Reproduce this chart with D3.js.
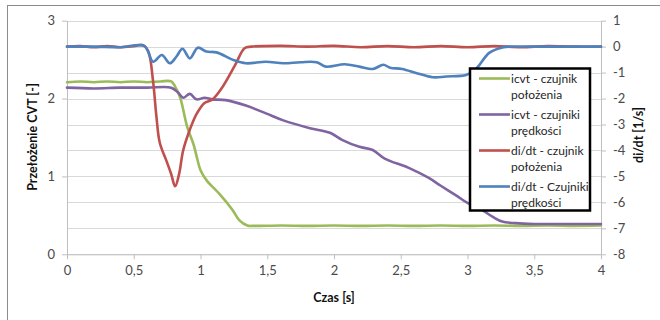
<!DOCTYPE html>
<html><head><meta charset="utf-8">
<script src="https://cdn.jsdelivr.net/npm/d3@7"></script>
<style>
body{margin:0;background:#fff;}
text{font-family:Lato,"Open Sans",sans-serif;}
</style></head><body>
<svg id="c" width="660" height="320"></svg>
<script>
// ---- data ----
const xTicks = [0,0.5,1,1.5,2,2.5,3,3.5,4];
const leftTicks = [0,1,2,3];
const rightTicks = [1,0,-1,-2,-3,-4,-5,-6,-7,-8];
const seriesNames = ["icvt - czujnik|położenia","icvt - czujniki|prędkości","di/dt - czujnik|położenia","di/dt - Czujniki|prędkości"];
const seriesColors = ["#9BBB59","#8064A2","#C0504D","#4F81BD"];

const greenT = [0,0.1,0.2,0.3,0.4,0.5,0.6,0.7,0.78,0.82,0.85,0.9,0.95,0.975,1.0,1.05,1.1,1.14,1.24,1.29,1.35,1.4,1.6,1.8,2.0,2.2,2.4,2.6,2.8,3.0,3.2,3.4,3.6,3.8,4.0];
const greenV = [2.21,2.22,2.21,2.22,2.21,2.22,2.21,2.22,2.22,2.12,2.0,1.64,1.40,1.23,1.08,0.94,0.85,0.78,0.57,0.44,0.37,0.365,0.37,0.365,0.37,0.365,0.37,0.365,0.37,0.365,0.37,0.365,0.37,0.365,0.37];

const purpleT = [0,0.2,0.4,0.6,0.78,0.83,0.87,0.92,0.97,1.03,1.09,1.19,1.34,1.49,1.62,1.82,1.97,2.06,2.19,2.29,2.38,2.56,2.71,2.8,2.92,3.0,3.09,3.19,3.26,3.36,3.5,3.75,4.0];
const purpleV = [2.14,2.13,2.14,2.14,2.14,2.08,2.01,2.06,1.99,2.01,1.99,1.98,1.91,1.81,1.72,1.62,1.56,1.47,1.38,1.34,1.23,1.11,0.98,0.88,0.75,0.66,0.59,0.48,0.42,0.40,0.39,0.39,0.39];

const redT = [0,0.1,0.2,0.3,0.4,0.5,0.57,0.61,0.645,0.67,0.695,0.745,0.78,0.81,0.84,0.87,0.92,0.97,1.03,1.09,1.16,1.26,1.33,1.38,1.6,1.8,2.0,2.2,2.4,2.6,2.8,3.0,3.2,3.4,3.6,3.8,4.0];
const redV = [0,0.02,-0.02,0.02,-0.02,0.02,0.06,-0.2,-1.35,-2.7,-3.7,-4.4,-4.9,-5.38,-4.9,-4.0,-3.2,-2.6,-2.17,-2.03,-1.59,-0.7,-0.06,0.0,0.03,0.0,0.03,-0.02,0.02,-0.02,0.02,-0.02,0.02,-0.02,0.02,0.0,0.0];

const blueT = [0,0.2,0.4,0.58,0.645,0.71,0.77,0.82,0.865,0.92,0.98,1.045,1.12,1.245,1.34,1.49,1.62,1.75,1.87,1.94,2.08,2.19,2.29,2.37,2.42,2.51,2.62,2.74,2.84,2.99,3.05,3.09,3.16,3.24,3.31,3.5,3.75,4.0];
const blueV = [0.0,0.0,-0.02,0.02,-0.58,-0.32,-0.64,-0.38,-0.08,-0.45,-0.04,-0.19,-0.22,-0.51,-0.64,-0.58,-0.64,-0.6,-0.6,-0.77,-0.68,-0.77,-0.86,-0.7,-0.81,-0.86,-1.02,-1.18,-1.15,-1.09,-0.92,-0.7,-0.25,-0.06,0.0,0.0,0.0,0.0];

// ---- drawing ----
const svg = d3.select("#c");
const L = 67, R = 601, T = 20.7, B = 254.3;
const x = d3.scaleLinear().domain([0,4]).range([L,R]);
const yL = d3.scaleLinear().domain([0,3]).range([B,T]);
const yR = d3.scaleLinear().domain([-8,1]).range([B,T]);

// outer border
svg.append("rect").attr("x",7.5).attr("y",5.5).attr("width",700).attr("height",400)
  .attr("fill","#fff").attr("stroke","#8c8c8c").attr("stroke-width",1);

// gridlines
svg.append("g").selectAll("line").data(rightTicks).join("line")
  .attr("x1",L).attr("x2",R).attr("y1",d=>Math.round(yR(d))+0.5).attr("y2",d=>Math.round(yR(d))+0.5)
  .attr("stroke","#d9d9d9").attr("stroke-width",1);

const fmt = d => String(d).replace(".",",");
const styleAxis = g => {
  g.select(".domain").attr("stroke","#bfbfbf");
  g.selectAll(".tick line").attr("stroke","#bfbfbf");
  g.selectAll(".tick text").attr("fill","#4a4a4a").style("font-size","13px").style("font-family","Lato");
};
svg.append("g").attr("transform",`translate(${L},0)`)
  .call(d3.axisLeft(yL).tickValues(leftTicks).tickSize(5).tickSizeOuter(0).tickPadding(7).tickFormat(fmt)).call(styleAxis);
svg.append("g").attr("transform",`translate(${R},0)`)
  .call(d3.axisRight(yR).tickValues(rightTicks).tickSize(5).tickSizeOuter(0).tickPadding(7).tickFormat(fmt)).call(styleAxis);
svg.append("g").attr("transform",`translate(0,${B})`)
  .call(d3.axisBottom(x).tickValues(xTicks).tickSize(5).tickSizeOuter(0).tickPadding(6).tickFormat(fmt)).call(styleAxis);

// lines
const mk = (T_,V_) => T_.map((t,i)=>[t,V_[i]]);
const series = [
  {d:mk(greenT,greenV), y:yL},
  {d:mk(purpleT,purpleV), y:yL},
  {d:mk(redT,redV), y:yR},
  {d:mk(blueT,blueV), y:yR}
];
series.forEach((s,i)=>{
  const line = d3.line().x(p=>x(p[0])).y(p=>s.y(p[1])).curve(d3.curveCatmullRom.alpha(0.5));
  svg.append("path").datum(s.d).attr("d",line).attr("fill","none")
    .attr("stroke",seriesColors[i]).attr("stroke-width",2.6).attr("stroke-linejoin","round").attr("stroke-linecap","round");
});

// axis titles
svg.append("text").attr("transform","translate(37,137) rotate(-90)").attr("text-anchor","middle")
  .style("font-size","12.5px").style("font-weight","bold").attr("fill","#111").text("Przełożenie CVT [-]");
svg.append("text").attr("transform","translate(643,135) rotate(-90)").attr("text-anchor","middle")
  .style("font-size","12.5px").style("font-weight","bold").attr("fill","#111").text("di/dt [1/s]");
svg.append("text").attr("x",334).attr("y",302).attr("text-anchor","middle")
  .style("font-size","12.5px").style("font-weight","bold").attr("fill","#111").text("Czas [s]");

// legend
const lg = svg.append("g");
lg.append("rect").attr("x",470).attr("y",68.5).attr("width",120).attr("height",142)
  .attr("fill","#fff").attr("stroke","#000").attr("stroke-width",2.5);
seriesNames.forEach((n,i)=>{
  const cy = 78.5 + i*36;
  lg.append("line").attr("x1",479).attr("x2",510).attr("y1",cy).attr("y2",cy)
    .attr("stroke",seriesColors[i]).attr("stroke-width",2.6);
  const parts = n.split("|");
  parts.forEach((p,j)=>{
    lg.append("text").attr("x",511).attr("y",cy+4+j*16).style("font-size","12px")
      .attr("fill","#262626").text(p);
  });
});
</script></body></html>
